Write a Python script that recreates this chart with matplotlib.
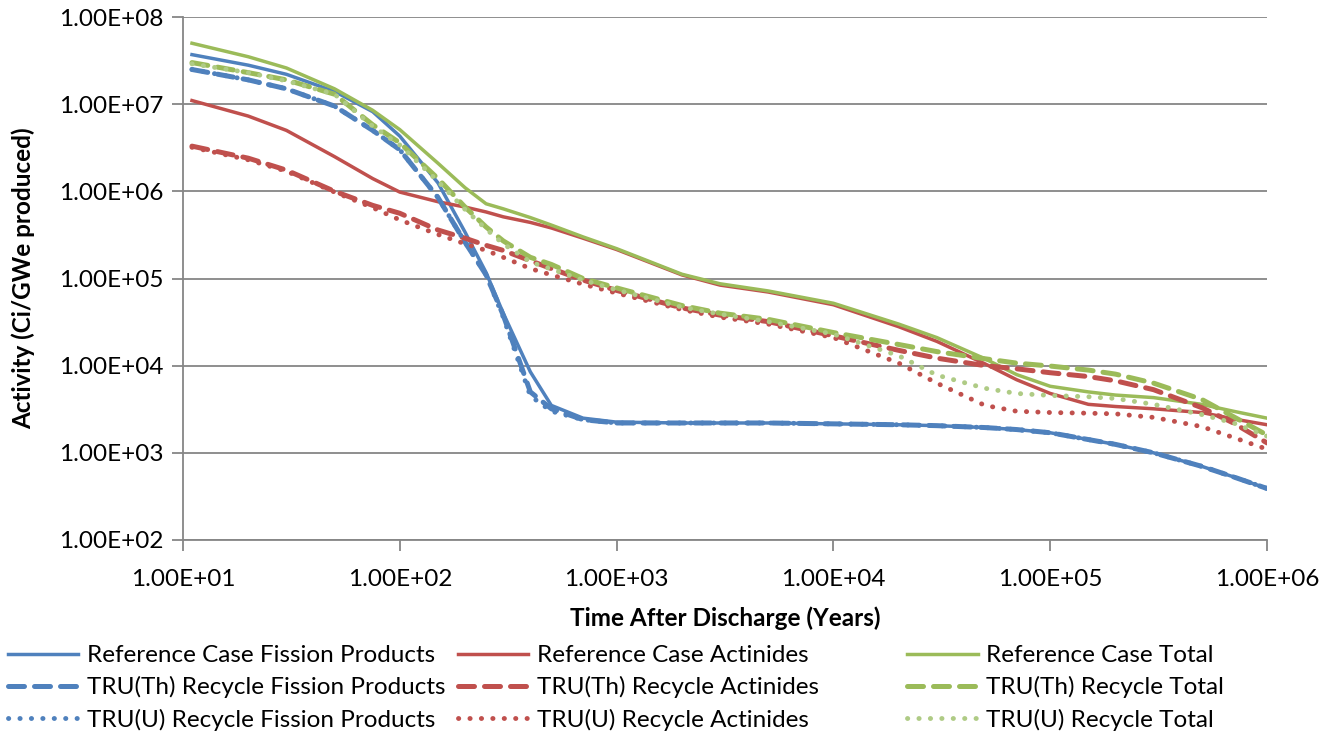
import matplotlib
matplotlib.use("Agg")
import matplotlib.pyplot as plt
from matplotlib.ticker import FixedLocator, NullLocator

plt.rcParams['font.family'] = ['Lato', 'DejaVu Sans']

# time after discharge (years)
years = [11, 20, 30, 50, 75, 100, 150, 200, 250, 300, 400, 500, 700, 1000,
         2000, 3000, 5000, 1e4, 2e4, 3e4, 5e4, 7e4, 1e5, 1.5e5, 2e5, 3e5,
         5e5, 7e5, 1e6]

# activity (Ci/GWe produced)
ref_fp = [3.7e7, 2.8e7, 2.2e7, 1.4e7, 8.2e6, 4.3e6, 1.25e6, 3.4e5, 1.17e5, 4.0e4,
          8.5e3, 3.5e3, 2.5e3, 2.25e3, 2.2e3, 2.2e3, 2.2e3, 2.15e3, 2.1e3, 2.05e3,
          1.95e3, 1.85e3, 1.7e3, 1.42e3, 1.25e3, 1.0e3, 700, 530, 390]
th_fp = [2.5e7, 1.9e7, 1.5e7, 9.5e6, 5.0e6, 3.0e6, 8.5e5, 2.6e5, 1.1e5, 3.8e4,
         5.0e3, 3.2e3, 2.4e3, 2.2e3, 2.2e3, 2.2e3, 2.2e3, 2.15e3, 2.1e3, 2.05e3,
         1.95e3, 1.85e3, 1.7e3, 1.42e3, 1.25e3, 1.0e3, 700, 530, 390]
u_fp = [2.5e7, 1.9e7, 1.5e7, 9.5e6, 5.0e6, 3.0e6, 8.5e5, 2.6e5, 1.1e5, 3.6e4,
        4.5e3, 3.0e3, 2.4e3, 2.2e3, 2.2e3, 2.2e3, 2.2e3, 2.15e3, 2.1e3, 2.05e3,
        1.95e3, 1.85e3, 1.7e3, 1.42e3, 1.25e3, 1.0e3, 700, 530, 390]

ref_act = [1.1e7, 7.3e6, 5.0e6, 2.5e6, 1.4e6, 9.8e5, 7.6e5, 6.6e5, 5.8e5, 5.1e5,
           4.4e5, 3.8e5, 2.9e5, 2.15e5, 1.1e5, 8.4e4, 7.0e4, 5.0e4, 2.8e4, 1.9e4,
           1.05e4, 6.9e3, 4.8e3, 3.6e3, 3.4e3, 3.2e3, 2.9e3, 2.45e3, 2.1e3]
th_act = [3.3e6, 2.4e6, 1.75e6, 1.0e6, 6.9e5, 5.6e5, 3.6e5, 2.9e5, 2.4e5, 2.1e5,
          1.6e5, 1.3e5, 9.6e4, 7.3e4, 4.6e4, 3.8e4, 3.2e4, 2.2e4, 1.5e4, 1.22e4,
          1.0e4, 9.2e3, 8.3e3, 7.5e3, 6.7e3, 5.3e3, 3.3e3, 2.2e3, 1.3e3]
u_act = [3.2e6, 2.3e6, 1.7e6, 9.8e5, 6.5e5, 4.7e5, 3.2e5, 2.5e5, 2.1e5, 1.75e5,
         1.3e5, 1.1e5, 8.6e4, 6.8e4, 4.4e4, 3.6e4, 3.0e4, 2.1e4, 1.07e4, 6.3e3,
         3.5e3, 3.0e3, 2.9e3, 2.85e3, 2.8e3, 2.55e3, 2.0e3, 1.5e3, 1.1e3]

ref_tot = [5.0e7, 3.5e7, 2.6e7, 1.5e7, 8.5e6, 5.1e6, 2.1e6, 1.1e6, 7.2e5, 6.3e5,
           5.0e5, 4.1e5, 3.0e5, 2.2e5, 1.12e5, 8.7e4, 7.2e4, 5.2e4, 3.0e4, 2.1e4,
           1.2e4, 7.9e3, 5.8e3, 5.0e3, 4.6e3, 4.3e3, 3.6e3, 3.0e3, 2.5e3]
th_tot = [3.0e7, 2.3e7, 1.9e7, 1.3e7, 5.8e6, 3.6e6, 1.4e6, 6.6e5, 3.9e5, 2.7e5,
          1.75e5, 1.45e5, 1.0e5, 7.8e4, 4.9e4, 4.0e4, 3.4e4, 2.4e4, 1.75e4, 1.45e4,
          1.2e4, 1.07e4, 9.9e3, 8.9e3, 8.0e3, 6.3e3, 4.1e3, 2.6e3, 1.6e3]
u_tot = [2.9e7, 2.3e7, 1.85e7, 1.3e7, 5.6e6, 3.4e6, 1.3e6, 6.2e5, 3.7e5, 2.5e5,
         1.55e5, 1.28e5, 9.6e4, 7.4e4, 4.7e4, 3.9e4, 3.2e4, 2.3e4, 1.3e4, 7.8e3,
         5.5e3, 4.8e3, 4.55e3, 4.4e3, 4.2e3, 3.6e3, 2.75e3, 2.2e3, 1.55e3]

BLUE = '#4F81BD'
RED = '#C0504D'
GREEN = '#9BBB59'
LGREEN = '#AFCB85'
FS = 17.5

fig = plt.figure(figsize=(13.34, 7.36), dpi=100)
ax = fig.add_axes([183 / 1334, 1 - 540 / 736, (1267 - 183) / 1334, (540 - 17) / 736])

solid = dict(linestyle='-', linewidth=2.5)
dashed = dict(linestyle=(0, (3.2, 2.0)), linewidth=3.6, dash_capstyle='round')
dotted = dict(linestyle=(0, (0.05, 2.3)), linewidth=3.5, dash_capstyle='round')

h1, = ax.plot(years, ref_fp, color=BLUE, **solid, label='Reference Case Fission Products')
h2, = ax.plot(years, ref_act, color=RED, **solid, label='Reference Case Actinides')
h3, = ax.plot(years, ref_tot, color=GREEN, **solid, label='Reference Case Total')
h4, = ax.plot(years, th_fp, color=BLUE, **dashed, label='TRU(Th) Recycle Fission Products')
h5, = ax.plot(years, th_act, color=RED, **dashed, label='TRU(Th) Recycle Actinides')
h6, = ax.plot(years, th_tot, color=GREEN, **dashed, label='TRU(Th) Recycle Total')
h7, = ax.plot(years, u_fp, color=BLUE, **dotted, label='TRU(U) Recycle Fission Products')
h8, = ax.plot(years, u_act, color=RED, **dotted, label='TRU(U) Recycle Actinides')
h9, = ax.plot(years, u_tot, color=LGREEN, **dotted, label='TRU(U) Recycle Total')

ax.set_xscale('log')
ax.set_yscale('log')
ax.set_xlim(10, 1e6)
ax.set_ylim(1e2, 1e8)

xt = [10 ** k for k in range(1, 7)]
yt = [10 ** k for k in range(2, 9)]
ax.xaxis.set_major_locator(FixedLocator(xt))
ax.yaxis.set_major_locator(FixedLocator(yt))
ax.xaxis.set_minor_locator(NullLocator())
ax.yaxis.set_minor_locator(NullLocator())
ax.set_xticklabels(['%.2E' % v for v in xt])
ax.set_yticklabels(['%.2E' % v for v in yt])
ax.tick_params(axis='both', labelsize=FS, color='#868686', length=8, width=1.3)
ax.tick_params(axis='x', pad=13)
ax.tick_params(axis='y', pad=6)

ax.grid(axis='y', color='#868686', linewidth=1.3)
ax.set_axisbelow(True)
for s in ['top', 'right']:
    ax.spines[s].set_visible(False)
for s in ['left', 'bottom']:
    ax.spines[s].set_color('#868686')
    ax.spines[s].set_linewidth(1.3)

ax.set_xlabel('Time After Discharge (Years)', fontsize=FS, fontweight='bold', labelpad=12)
ax.set_ylabel('Activity (Ci/GWe produced)', fontsize=FS, fontweight='bold', labelpad=17)

# legend: three columns spread like Excel's
cols = [(h1, h4, h7), (h2, h5, h8), (h3, h6, h9)]
xs = [0.006, 0.343, 0.680]
for hs, x0 in zip(cols, xs):
    fig.legend(handles=list(hs), labels=[h.get_label() for h in hs],
               loc='upper left', bbox_to_anchor=(x0, 1 - 645 / 736),
               frameon=False, fontsize=FS, handlelength=2.9,
               handletextpad=0.35, labelspacing=0.42, borderpad=0,
               borderaxespad=0)

fig.savefig('out.png', dpi=100)
